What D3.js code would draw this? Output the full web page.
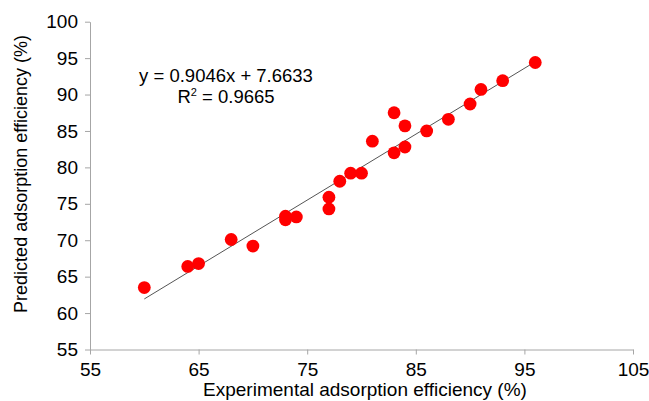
<!DOCTYPE html>
<html>
<head>
<meta charset="utf-8">
<script src="https://cdn.jsdelivr.net/npm/d3@7"></script>
<style>
  html, body { margin: 0; padding: 0; background: #fff; }
  svg { display: block; font-family: "Liberation Sans", Arial, sans-serif; }
</style>
</head>
<body>
<svg id="chart" width="649" height="401"></svg>
<script>
// Experimental vs predicted adsorption efficiency (%)
const experimental = [60, 64, 65, 68, 70, 73, 73, 74, 77, 77, 78, 79, 80, 81, 83, 83, 84, 84, 86, 88, 90, 91, 93, 96];
const predicted    = [63.5, 66.4, 66.8, 70.1, 69.2, 73.3, 72.8, 73.2, 75.9, 74.3, 78.1, 79.2, 79.2, 83.6, 82.0, 87.5, 82.8, 85.7, 85.0, 86.6, 88.7, 90.7, 91.9, 94.4];
const xTicks = [55, 65, 75, 85, 95, 105];
const yTicks = [55, 60, 65, 70, 75, 80, 85, 90, 95, 100];
const slope = 0.9046, intercept = 7.6633, rSquared = 0.9665;

const svg = d3.select("#chart");
const plot = { left: 90, right: 633, top: 21.7, bottom: 349.5 };

const x = d3.scaleLinear().domain([55, 105]).range([plot.left, plot.right]);
const y = d3.scaleLinear().domain([55, 100]).range([plot.bottom, plot.top]);

const axisColor = "#a6a6a6";

const xAxis = svg.append("g")
  .attr("transform", `translate(0,${plot.bottom})`)
  .call(d3.axisBottom(x).tickValues(xTicks).tickSize(5).tickSizeOuter(0).tickPadding(8));
const yAxis = svg.append("g")
  .attr("transform", `translate(${plot.left},0)`)
  .call(d3.axisLeft(y).tickValues(yTicks).tickSize(5).tickSizeOuter(0).tickPadding(7));

[xAxis, yAxis].forEach(g => {
  g.select(".domain").attr("stroke", axisColor);
  g.selectAll(".tick line").attr("stroke", axisColor);
  g.selectAll(".tick text")
    .attr("fill", "#000")
    .style("font-size", "19px")
    .style("font-family", "'Liberation Sans', Arial, sans-serif");
});

// Linear trend line across the data range
const xMin = d3.min(experimental), xMax = d3.max(experimental);
svg.append("line")
  .attr("x1", x(xMin)).attr("y1", y(slope * xMin + intercept))
  .attr("x2", x(xMax)).attr("y2", y(slope * xMax + intercept))
  .attr("stroke", "#555")
  .attr("stroke-width", 1);

// Data points
svg.append("g").selectAll("circle")
  .data(experimental.map((v, i) => [v, predicted[i]]))
  .join("circle")
  .attr("cx", d => x(d[0]))
  .attr("cy", d => y(d[1]))
  .attr("r", 6.4)
  .attr("fill", "#ff0000");

// Regression equation
const eq = svg.append("g").attr("font-size", 18.5).attr("fill", "#000").attr("text-anchor", "middle");
eq.append("text").attr("x", 226).attr("y", 82)
  .text(`y = ${slope.toFixed(4)}x + ${intercept.toFixed(4)}`);
const r2 = eq.append("text").attr("x", 226).attr("y", 103);
r2.append("tspan").text("R");
r2.append("tspan").attr("dy", -7).attr("font-size", 11).text("2");
r2.append("tspan").attr("dy", 7).text(` = ${rSquared.toFixed(4)}`);

// Axis titles
svg.append("text")
  .attr("x", 365).attr("y", 396)
  .attr("text-anchor", "middle").attr("font-size", 19)
  .text("Experimental adsorption efficiency (%)");
svg.append("text")
  .attr("transform", `translate(27,174) rotate(-90)`)
  .attr("text-anchor", "middle").attr("font-size", 18)
  .text("Predicted adsorption efficiency (%)");
</script>
</body>
</html>
